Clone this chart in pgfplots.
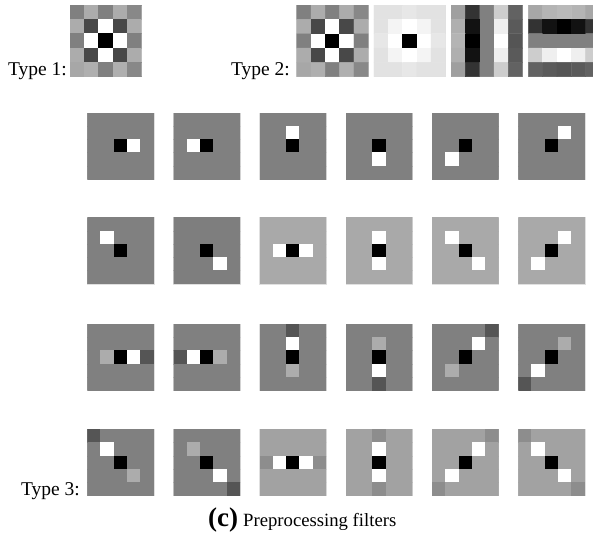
\documentclass[border=0pt]{standalone}
\usepackage{pgfplots}
\pgfplotsset{compat=1.18}
\usepackage{fontspec}
\setmainfont{Liberation Serif}
\pgfplotsset{fstyle/.style={anchor=south west, scale only axis,
  xmin=-0.5, xmax=4.5, ymin=-0.5, ymax=4.5, ticks=none,
  axis line style={black!12, line width=0.5pt},
  colormap/blackwhite, point meta min=0, point meta max=1}}
\newcommand\filt[4]{%
\begin{axis}[fstyle, at={(#1pt,#2pt)}, width=#3pt, height=#3pt]
\addplot[matrix plot*, mesh/cols=5, point meta=explicit]
  table[row sep=\\, header=false, x expr={mod(\coordindex,5)},
        y expr={4-floor((\coordindex+0.5)/5)}, meta index=0] {#4};
\end{axis}}
\begin{document}
\begin{tikzpicture}
\useasboundingbox (0,0) rectangle (593pt,538pt);
% ---------- Type 1 ----------
\filt{70}{461.3}{71.7}{
.50\\.67\\.50\\.67\\.53\\
.67\\.28\\1\\.28\\.67\\
.50\\1\\0\\1\\.50\\
.67\\.28\\1\\.28\\.67\\
.65\\.68\\.50\\.68\\.53\\}
% ---------- Type 2 ----------
\filt{296.7}{461.3}{71.6}{
.50\\.67\\.50\\.67\\.53\\
.67\\.28\\1\\.28\\.67\\
.50\\1\\0\\1\\.50\\
.67\\.28\\1\\.28\\.67\\
.65\\.68\\.50\\.68\\.53\\}
\filt{373.9}{461.3}{71.6}{
.88\\.88\\.90\\.88\\.88\\
.88\\.95\\1\\.95\\.88\\
.90\\1\\0\\1\\.90\\
.88\\.95\\1\\.95\\.88\\
.88\\.88\\.90\\.88\\.88\\}
\filt{451.1}{461.3}{71.6}{
.62\\.20\\.50\\.80\\.38\\
.68\\.07\\.50\\.93\\.35\\
.70\\0\\.50\\1\\.33\\
.68\\.07\\.50\\.93\\.35\\
.62\\.20\\.50\\.80\\.38\\}
\filt{528.3}{461.3}{71.6}{
.65\\.70\\.72\\.70\\.65\\
.20\\.07\\0\\.07\\.20\\
.50\\.50\\.50\\.50\\.50\\
.80\\.93\\1\\.93\\.80\\
.38\\.35\\.33\\.35\\.38\\}
% ---------- Type 3, row 1 ----------
\filt{87.3}{358.7}{66.5}{
.5\\.5\\.5\\.5\\.5\\
.5\\.5\\.5\\.5\\.5\\
.5\\.5\\0\\1\\.5\\
.5\\.5\\.5\\.5\\.5\\
.5\\.5\\.5\\.5\\.5\\}
\filt{173.5}{358.7}{66.5}{
.5\\.5\\.5\\.5\\.5\\
.5\\.5\\.5\\.5\\.5\\
.5\\1\\0\\.5\\.5\\
.5\\.5\\.5\\.5\\.5\\
.5\\.5\\.5\\.5\\.5\\}
\filt{259.7}{358.7}{66.5}{
.5\\.5\\.5\\.5\\.5\\
.5\\.5\\1\\.5\\.5\\
.5\\.5\\0\\.5\\.5\\
.5\\.5\\.5\\.5\\.5\\
.5\\.5\\.5\\.5\\.5\\}
\filt{345.9}{358.7}{66.5}{
.5\\.5\\.5\\.5\\.5\\
.5\\.5\\.5\\.5\\.5\\
.5\\.5\\0\\.5\\.5\\
.5\\.5\\1\\.5\\.5\\
.5\\.5\\.5\\.5\\.5\\}
\filt{432.1}{358.7}{66.5}{
.5\\.5\\.5\\.5\\.5\\
.5\\.5\\.5\\.5\\.5\\
.5\\.5\\0\\.5\\.5\\
.5\\1\\.5\\.5\\.5\\
.5\\.5\\.5\\.5\\.5\\}
\filt{518.3}{358.7}{66.5}{
.5\\.5\\.5\\.5\\.5\\
.5\\.5\\.5\\1\\.5\\
.5\\.5\\0\\.5\\.5\\
.5\\.5\\.5\\.5\\.5\\
.5\\.5\\.5\\.5\\.5\\}
% ---------- Type 3, row 2 ----------
\filt{87.3}{254}{66.5}{
.5\\.5\\.5\\.5\\.5\\
.5\\1\\.5\\.5\\.5\\
.5\\.5\\0\\.5\\.5\\
.5\\.5\\.5\\.5\\.5\\
.5\\.5\\.5\\.5\\.5\\}
\filt{173.5}{254}{66.5}{
.49\\.49\\.49\\.49\\.49\\
.49\\.49\\.49\\.49\\.49\\
.49\\.49\\0\\.49\\.49\\
.49\\.49\\.49\\1\\.49\\
.49\\.49\\.49\\.49\\.49\\}
\filt{259.7}{254}{66.5}{
.66\\.66\\.66\\.66\\.66\\
.66\\.66\\.66\\.66\\.66\\
.66\\1\\0\\1\\.66\\
.66\\.66\\.66\\.66\\.66\\
.66\\.66\\.66\\.66\\.66\\}
\filt{345.9}{254}{66.5}{
.66\\.66\\.66\\.66\\.66\\
.66\\.66\\1\\.66\\.66\\
.66\\.66\\0\\.66\\.66\\
.66\\.66\\1\\.66\\.66\\
.66\\.66\\.66\\.66\\.66\\}
\filt{432.1}{254}{66.5}{
.66\\.66\\.66\\.66\\.66\\
.66\\1\\.66\\.66\\.66\\
.66\\.66\\0\\.66\\.66\\
.66\\.66\\.66\\1\\.66\\
.66\\.66\\.66\\.66\\.66\\}
\filt{518.3}{254}{66.5}{
.66\\.66\\.66\\.66\\.66\\
.66\\.66\\.66\\1\\.66\\
.66\\.66\\0\\.66\\.66\\
.66\\1\\.66\\.66\\.66\\
.66\\.66\\.66\\.66\\.66\\}
% ---------- Type 3, row 3 ----------
\filt{87.3}{147.7}{66.5}{
.5\\.5\\.5\\.5\\.5\\
.5\\.5\\.5\\.5\\.5\\
.5\\.67\\0\\1\\.33\\
.5\\.5\\.5\\.5\\.5\\
.5\\.5\\.5\\.5\\.5\\}
\filt{173.5}{147.7}{66.5}{
.5\\.5\\.5\\.5\\.5\\
.5\\.5\\.5\\.5\\.5\\
.33\\1\\0\\.67\\.5\\
.5\\.5\\.5\\.5\\.5\\
.5\\.5\\.5\\.5\\.5\\}
\filt{259.7}{147.7}{66.5}{
.5\\.5\\.33\\.5\\.5\\
.5\\.5\\1\\.5\\.5\\
.5\\.5\\0\\.5\\.5\\
.5\\.5\\.67\\.5\\.5\\
.5\\.5\\.5\\.5\\.5\\}
\filt{345.9}{147.7}{66.5}{
.5\\.5\\.5\\.5\\.5\\
.5\\.5\\.67\\.5\\.5\\
.5\\.5\\0\\.5\\.5\\
.5\\.5\\1\\.5\\.5\\
.5\\.5\\.33\\.5\\.5\\}
\filt{432.1}{147.7}{66.5}{
.5\\.5\\.5\\.5\\.33\\
.5\\.5\\.5\\1\\.5\\
.5\\.5\\0\\.5\\.5\\
.5\\.67\\.5\\.5\\.5\\
.5\\.5\\.5\\.5\\.5\\}
\filt{518.3}{147.7}{66.5}{
.5\\.5\\.5\\.5\\.5\\
.5\\.5\\.5\\.67\\.5\\
.5\\.5\\0\\.5\\.5\\
.5\\1\\.5\\.5\\.5\\
.33\\.5\\.5\\.5\\.5\\}
% ---------- Type 3, row 4 ----------
\filt{87.3}{42.3}{66.5}{
.33\\.5\\.5\\.5\\.5\\
.5\\1\\.5\\.5\\.5\\
.5\\.5\\0\\.5\\.5\\
.5\\.5\\.5\\.67\\.5\\
.5\\.5\\.5\\.5\\.5\\}
\filt{173.5}{42.3}{66.5}{
.5\\.5\\.5\\.5\\.5\\
.5\\.67\\.5\\.5\\.5\\
.5\\.5\\0\\.5\\.5\\
.5\\.5\\.5\\1\\.5\\
.5\\.5\\.5\\.5\\.33\\}
\filt{259.7}{42.3}{66.5}{
.63\\.63\\.63\\.63\\.63\\
.63\\.63\\.63\\.63\\.63\\
.55\\1\\0\\1\\.55\\
.63\\.63\\.63\\.63\\.63\\
.63\\.63\\.63\\.63\\.63\\}
\filt{345.9}{42.3}{66.5}{
.63\\.63\\.55\\.63\\.63\\
.63\\.63\\1\\.63\\.63\\
.63\\.63\\0\\.63\\.63\\
.63\\.63\\1\\.63\\.63\\
.63\\.63\\.55\\.63\\.63\\}
\filt{432.1}{42.3}{66.5}{
.63\\.63\\.63\\.63\\.55\\
.63\\.63\\.63\\1\\.63\\
.63\\.63\\0\\.63\\.63\\
.63\\1\\.63\\.63\\.63\\
.55\\.63\\.63\\.63\\.63\\}
\filt{518.3}{42.3}{66.5}{
.55\\.63\\.63\\.63\\.63\\
.63\\1\\.63\\.63\\.63\\
.63\\.63\\0\\.63\\.63\\
.63\\.63\\.63\\1\\.63\\
.63\\.63\\.63\\.63\\.55\\}
% ---------- labels ----------
\node[anchor=base east, inner sep=0, font=\fontsize{19.5}{23}\selectfont] at (67pt,462pt) {Type 1:};
\node[anchor=base east, inner sep=0, font=\fontsize{19.5}{23}\selectfont] at (290pt,462pt) {Type 2:};
\node[anchor=base east, inner sep=0, font=\fontsize{19.5}{23}\selectfont] at (80pt,43pt) {Type 3:};
\node[anchor=base west, inner sep=0] at (208pt,12pt) {{\fontsize{27}{30}\selectfont\bfseries (c)}\hspace{5pt}{\fontsize{18.7}{22}\selectfont Preprocessing filters}};
\end{tikzpicture}
\end{document}
